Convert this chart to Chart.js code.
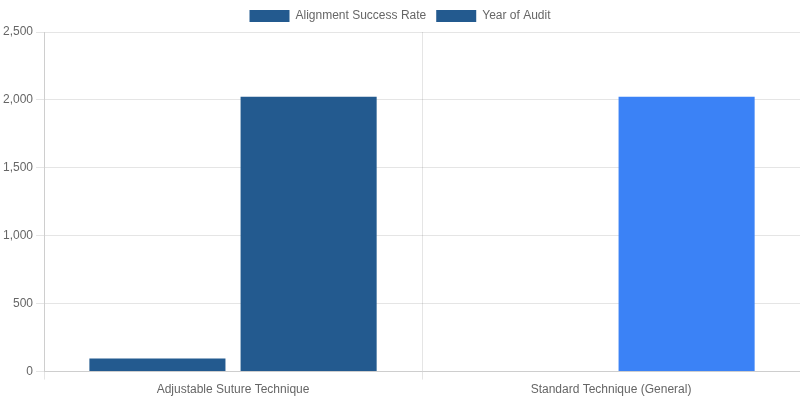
<!DOCTYPE html>
<html><head><script src="https://cdn.jsdelivr.net/npm/chart.js@4"></script>
<style>body{margin:0}#w{width:800px;height:400px}</style></head>
<body><div id="w"><canvas id="c"></canvas></div>
<script>
const categories=["Adjustable Suture Technique","Standard Technique (General)"];
const successRate=[96,null];
const yearOfAudit=[2023,2023];
const successColors=["#235a8f","#235a8f"];
const yearColors=["#235a8f","#3b82f6"];
Chart.defaults.font.family="Liberation Sans, Arial, sans-serif";
Chart.defaults.color="#666";
new Chart(document.getElementById('c'),{type:'bar',
data:{labels:categories,datasets:[
{label:"Alignment Success Rate",data:successRate,backgroundColor:successColors},
{label:"Year of Audit",data:yearOfAudit,backgroundColor:yearColors}]},
options:{responsive:true,maintainAspectRatio:false,animation:false,
plugins:{legend:{position:'top'}},
scales:{y:{beginAtZero:true,max:2500,ticks:{stepSize:500}},x:{}}}});
</script></body></html>
